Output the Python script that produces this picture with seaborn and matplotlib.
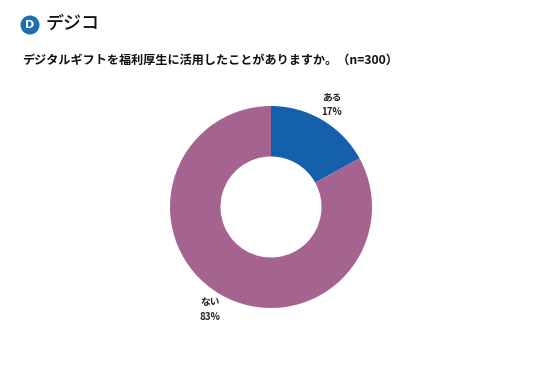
import matplotlib
matplotlib.use("Agg")
import matplotlib.pyplot as plt
import seaborn as sns
from matplotlib.patches import Circle

# data
labels = ["ある", "ない"]
shares = [17, 83]
colors = ["#1560ad", "#a5638f"]
title = "デジタルギフトを福利厚生に活用したことがありますか。（n=300）"

sns.set_theme(style="white")
plt.rcParams["font.family"] = ["Noto Sans CJK JP", "DejaVu Sans"]

fig = plt.figure(figsize=(5.36, 3.8), dpi=100)
fig.patch.set_facecolor("white")

# logo (inch coordinates so the circle stays round)
logo = Circle((0.30, 3.8 - 0.25), 0.095, transform=fig.dpi_scale_trans,
              facecolor="#1a6fb5", edgecolor="none")
fig.patches.append(logo)
fig.text(30 / 536, 1 - 25 / 380, "D", color="white", fontsize=8, fontweight="bold",
         ha="center", va="center", family="DejaVu Sans")
fig.text(46 / 536, 1 - 24 / 380, "デジコ", color="#111111", fontsize=13,
         fontweight="medium", ha="left", va="center")

# title
fig.text(22 / 536, 1 - 60 / 380, title, fontsize=8.7, fontweight="bold",
         color="#111111", ha="left", va="center")

# donut
ax = fig.add_axes([(271 - 101) / 536, (380 - 308) / 380, 202 / 536, 202 / 380])
pie_labels = [f"{l}\n{v}%" for l, v in zip(labels, shares)]
ax.pie(shares, labels=pie_labels, colors=colors, startangle=90, counterclock=False,
       radius=1, labeldistance=1.18, wedgeprops=dict(width=0.5, edgecolor="none"),
       textprops=dict(fontsize=7, fontweight="bold", color="#222222", ha="center",
                      va="center", linespacing=1.6))
ax.set_xlim(-1, 1)
ax.set_ylim(-1, 1)
ax.set_aspect("equal")
ax.axis("off")

fig.savefig("out.png", dpi=100)
